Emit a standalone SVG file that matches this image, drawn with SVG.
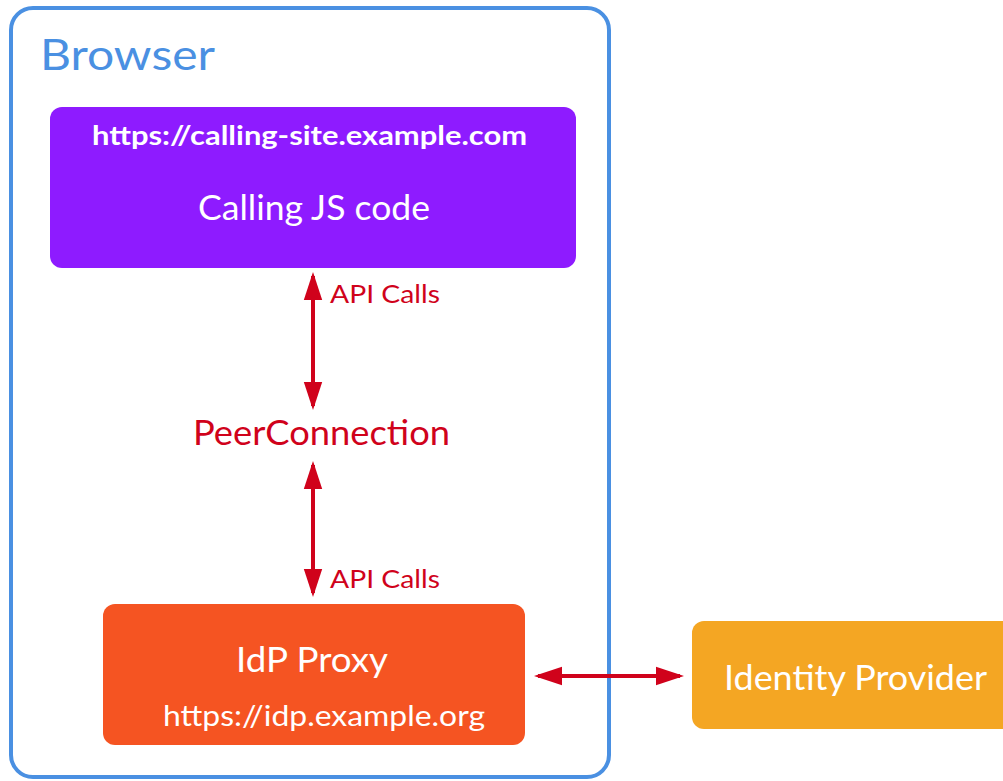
<svg xmlns="http://www.w3.org/2000/svg" width="1003" height="781" viewBox="0 0 1003 781">
<defs>
<marker id="ah" markerWidth="7" markerHeight="6" refX="6" refY="3" orient="auto-start-reverse" markerUnits="strokeWidth">
<path d="M0,0.7 L7,3 L0,5.3 Z" fill="#D0021B"/>
</marker>
<style>
text{font-family:Lato,"Open Sans","Liberation Sans",sans-serif}
.w{fill:#fff}
.r{fill:#D0021B}
.c{stroke:#D0021B;stroke-width:4;fill:none;marker-start:url(#ah);marker-end:url(#ah)}
</style>
</defs>
<g id="browser">
<rect x="11" y="8" width="598" height="769" rx="22" fill="#fff" stroke="#4A90E2" stroke-width="4"/>
<text x="40" y="70" font-size="43" fill="#4A90E2" textLength="175" lengthAdjust="spacingAndGlyphs">Browser</text>
</g>
<g id="calling">
<rect x="50" y="107" width="526" height="161" rx="12" fill="#8E1BFF"/>
<text class="w" x="92" y="145" font-size="27" font-weight="bold" textLength="435" lengthAdjust="spacingAndGlyphs">https://calling-site.example.com</text>
<text class="w" x="198" y="220" font-size="34" textLength="232" lengthAdjust="spacingAndGlyphs">Calling JS code</text>
</g>
<g id="peer">
<text class="r" x="193" y="445" font-size="34" textLength="257" lengthAdjust="spacingAndGlyphs">PeerConnection</text>
</g>
<g id="idpproxy">
<rect x="103" y="604" width="422" height="141" rx="12" fill="#F55422"/>
<text class="w" x="236" y="672" font-size="34" textLength="152" lengthAdjust="spacingAndGlyphs">IdP Proxy</text>
<text class="w" x="163" y="726" font-size="29" textLength="322" lengthAdjust="spacingAndGlyphs">https://idp.example.org</text>
</g>
<g id="idp">
<rect x="692" y="621" width="330" height="108" rx="12" fill="#F4A623"/>
<text class="w" x="724" y="690" font-size="34" textLength="263" lengthAdjust="spacingAndGlyphs">Identity Provider</text>
</g>
<g id="connectors">
<line class="c" x1="313" y1="276" x2="313" y2="406"/>
<text class="r" x="330" y="303" font-size="25" textLength="110" lengthAdjust="spacingAndGlyphs">API Calls</text>
<line class="c" x1="313" y1="465" x2="313" y2="593"/>
<text class="r" x="330" y="588" font-size="25" textLength="110" lengthAdjust="spacingAndGlyphs">API Calls</text>
<line class="c" x1="538" y1="676" x2="680" y2="676"/>
</g>
</svg>
